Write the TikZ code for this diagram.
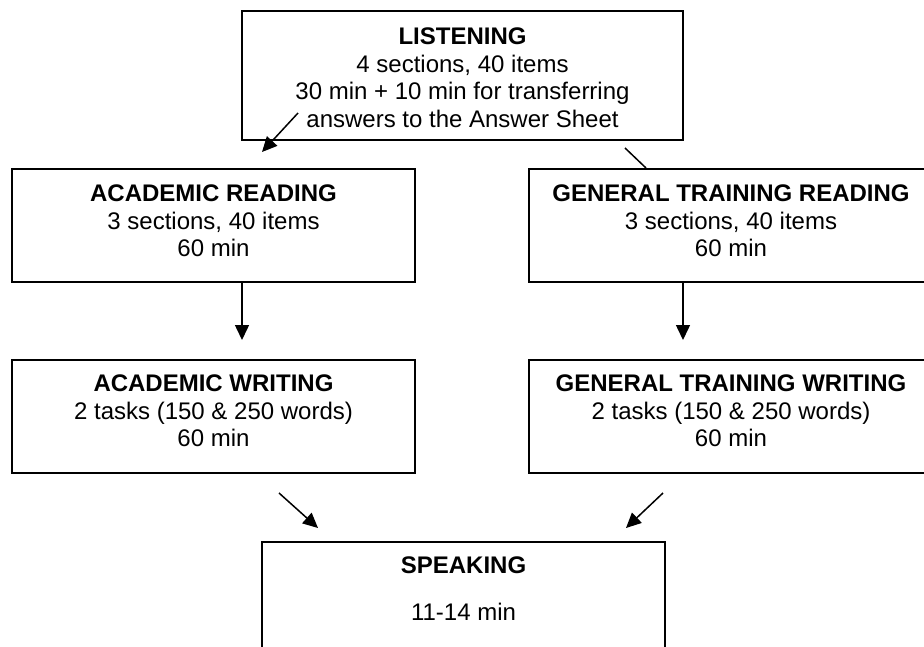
\documentclass[tikz,border=0pt]{standalone}
\usepackage{fontspec}
\setmainfont{Liberation Sans}
\usetikzlibrary{arrows.meta}
\begin{document}
\begin{tikzpicture}[x=1pt,y=-1pt,
  boxshape/.style={draw, line width=1.5pt, rectangle, inner sep=0pt},
  txt/.style={inner sep=0pt, align=center, anchor=north, font=\fontsize{24}{27.5}\selectfont},
  arr/.style={line width=1.5pt, -{Triangle[length=15pt,width=14pt]}},
  plain/.style={line width=1.5pt}]
\useasboundingbox (0,0) rectangle (924,646);
\clip (0,0) rectangle (924,646);
% boxes
\node[boxshape, minimum width=441pt, minimum height=129pt] (listen) at (462.5,75.5) {};
\node[boxshape, minimum width=403pt, minimum height=113pt] (ar) at (213.5,225.5) {};
\node[boxshape, minimum width=404pt, minimum height=113pt] (gr) at (731,225.5) {};
\node[boxshape, minimum width=403pt, minimum height=113pt] (aw) at (213.5,416.5) {};
\node[boxshape, minimum width=404pt, minimum height=113pt] (gw) at (731,416.5) {};
\node[boxshape, minimum width=403pt, minimum height=130pt] (sp) at (463.5,607) {};
% texts
\node[txt] (listen-t) at (462.5,27.8) {\textbf{LISTENING}\\4 sections, 40 items\\30 min + 10 min for transferring\\answers to the Answer Sheet};
\node[txt] (ar-t) at (213.5,184.8) {\textbf{ACADEMIC READING}\\3 sections, 40 items\\60 min};
\node[txt] (gr-t) at (731,184.8) {\textbf{GENERAL TRAINING READING}\\3 sections, 40 items\\60 min};
\node[txt] (aw-t) at (213.5,374.8) {\textbf{ACADEMIC WRITING}\\2 tasks (150 \& 250 words)\\60 min};
\node[txt] (gw-t) at (731,374.8) {\textbf{GENERAL TRAINING WRITING}\\2 tasks (150 \& 250 words)\\60 min};
\node[txt] (sp-t) at (463.5,556.8) {\textbf{SPEAKING}\\[19.5pt]11-14 min};
% connector ends
\coordinate (l1s) at (298,113);
\coordinate (l1e) at (262,152);
\coordinate (l2s) at (625,148);
\coordinate (l2e) at (646,168);
\coordinate (a1) at (242,340);
\coordinate (g1) at (683,340);
\coordinate (b1s) at (279,493);
\coordinate (b1e) at (318,528);
\coordinate (b2s) at (663,493);
\coordinate (b2e) at (626,528);
% connectors
\draw[arr] (l1s) -- (l1e);
\draw[plain] (l2s) -- (l2e);
\draw[arr] (a1 |- ar.south) -- (a1);
\draw[arr] (g1 |- gr.south) -- (g1);
\draw[arr] (b1s) -- (b1e);
\draw[arr] (b2s) -- (b2e);
\end{tikzpicture}
\end{document}
